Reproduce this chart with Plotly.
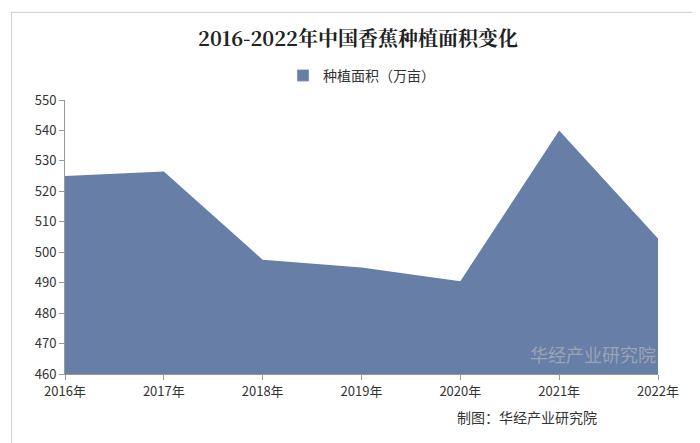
import plotly.graph_objects as go

years = ["2016年", "2017年", "2018年", "2019年", "2020年", "2021年", "2022年"]
area = [525, 526.5, 497.5, 495, 490.5, 540, 504.5]

fig = go.Figure()
fig.add_trace(go.Scatter(x=years, y=area, mode="lines", fill="tozeroy",
                         line=dict(color="#677ea6", width=0), fillcolor="#677ea6",
                         showlegend=False))
fig.add_trace(go.Bar(x=[years[0]], y=[None], marker_color="#677ea6", name="种植面积（万亩）"))
fig.update_layout(
    width=700, height=443, paper_bgcolor="white", plot_bgcolor="white",
    margin=dict(l=57, r=50, t=92, b=77),
    title=dict(text="<b>2016-2022年中国香蕉种植面积变化</b>", x=0.5, y=0.93, yanchor="middle", xanchor="center",
               font=dict(family="Noto Serif CJK SC, Noto Sans CJK SC", size=20, color="#222")),
    legend=dict(orientation="h", x=0.5, xanchor="center", y=1.03, yanchor="bottom",
                font=dict(family="Noto Sans CJK SC", size=14, color="#333")),
    font=dict(family="Noto Sans CJK SC", size=13, color="#333"),
    xaxis=dict(range=[0, 6], showgrid=False, showline=True, linecolor="#999",
               ticks="outside", ticklen=5, tickcolor="#999"),
    yaxis=dict(range=[460, 550], dtick=10, showgrid=False, showline=True, linecolor="#999",
               ticks="outside", ticklen=5, tickcolor="#999"),
    shapes=[dict(type="rect", xref="paper", yref="paper", x0=-0.09, x1=1.078, y0=-0.27, y1=1.32,
                 line=dict(color="#cccccc", width=1))],
    annotations=[dict(text="制图：华经产业研究院", xref="paper", yref="paper", x=0.9, y=-0.2,
                      xanchor="right", showarrow=False, font=dict(size=14, color="#333")),
                 dict(text="华经产业研究院", xref="paper", yref="paper", x=1.0, y=0.02,
                      xanchor="right", showarrow=False, font=dict(size=18, color="rgba(190,190,190,0.6)"))],
)
fig.write_html("out.html")
